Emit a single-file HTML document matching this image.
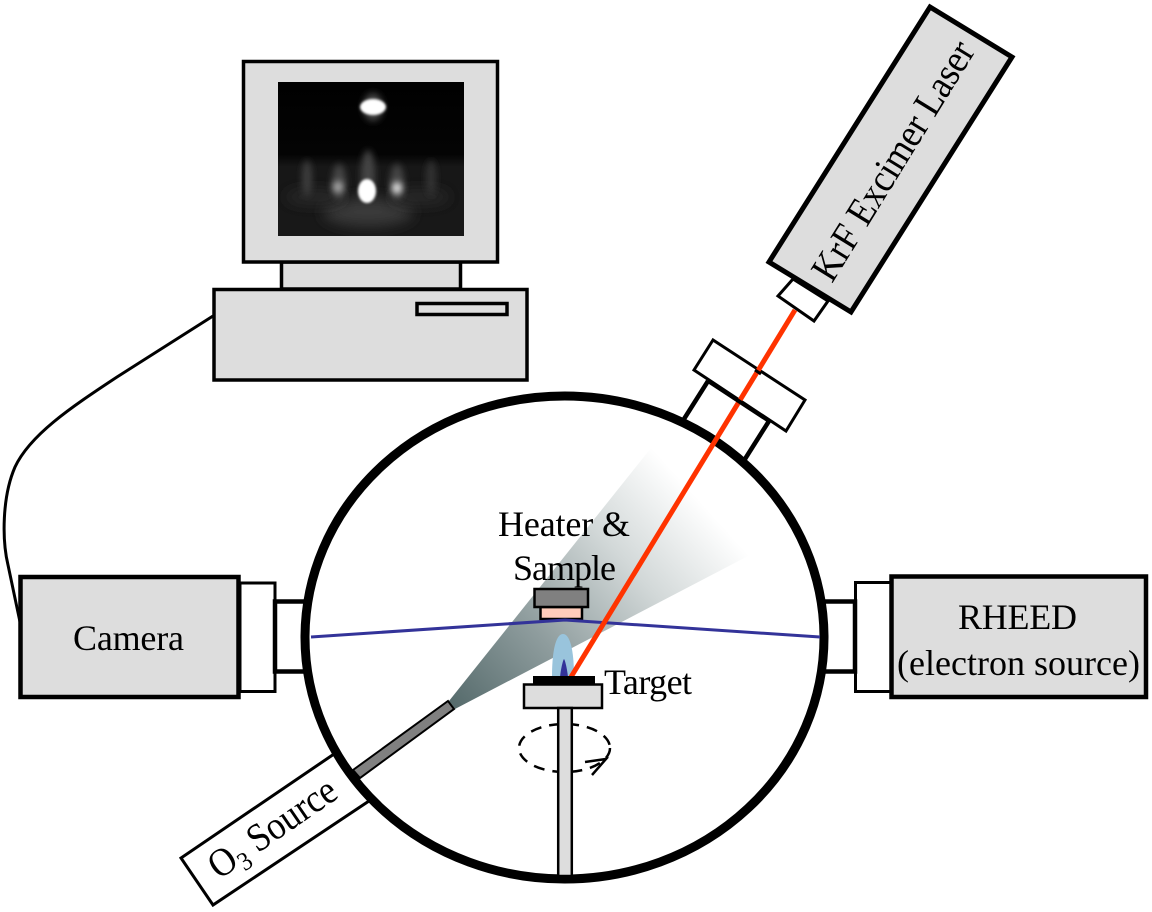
<!DOCTYPE html>
<html><head><meta charset="utf-8"><style>
html,body{margin:0;padding:0;background:#fff}
svg{display:block}
text{font-family:"Liberation Serif",serif;fill:#000;font-size:36px}
</style></head><body>
<svg width="1152" height="912" viewBox="0 0 1152 912" xmlns="http://www.w3.org/2000/svg">
<defs>
<linearGradient id="gas" gradientUnits="userSpaceOnUse" x1="452" y1="705" x2="690" y2="490">
<stop offset="0" stop-color="#566b6c"/><stop offset="0.35" stop-color="#8f9d9e"/><stop offset="0.7" stop-color="#d2d8d8"/><stop offset="1" stop-color="#ffffff"/>
</linearGradient>
<linearGradient id="scr" x1="0" y1="0" x2="0" y2="1">
<stop offset="0" stop-color="#000"/><stop offset="0.47" stop-color="#040404"/><stop offset="0.55" stop-color="#171717"/><stop offset="1" stop-color="#181818"/>
</linearGradient>
<filter id="b1" x="-100%" y="-100%" width="300%" height="300%"><feGaussianBlur stdDeviation="1.2"/></filter>
<filter id="b3" x="-100%" y="-100%" width="300%" height="300%"><feGaussianBlur stdDeviation="3.5"/></filter>
<filter id="b6" x="-100%" y="-100%" width="300%" height="300%"><feGaussianBlur stdDeviation="7"/></filter>
<clipPath id="sc"><rect x="278" y="82" width="186" height="154"/></clipPath>
</defs>

<!-- cable -->
<path d="M213,316 L117,377 C70,408 30,435 15,467 C2,497 2,540 8,565 L20,622" fill="none" stroke="#000" stroke-width="3"/>

<!-- monitor -->
<rect x="281.5" y="262" width="179" height="27" fill="#ddd" stroke="#000" stroke-width="3.5"/>
<rect x="243.5" y="61.5" width="254" height="200.5" fill="#ddd" stroke="#000" stroke-width="3.5"/>
<rect x="214" y="289.5" width="313" height="90.5" fill="#ddd" stroke="#000" stroke-width="3.5"/>
<rect x="417" y="303.5" width="90" height="11" fill="#ddd" stroke="#000" stroke-width="3.5"/>
<!-- RHEED screen -->
<rect x="278" y="82" width="186" height="154" fill="url(#scr)"/>
<g clip-path="url(#sc)">
<ellipse cx="368" cy="212" rx="45" ry="14" fill="#3a3a3a" filter="url(#b6)"/>
<ellipse cx="315" cy="197" rx="30" ry="7" fill="#2c2c2c" filter="url(#b6)"/>
<ellipse cx="420" cy="197" rx="30" ry="7" fill="#2c2c2c" filter="url(#b6)"/>
<ellipse cx="307" cy="178" rx="5" ry="18" fill="#3c3c3c" filter="url(#b3)"/>
<ellipse cx="431" cy="178" rx="5" ry="18" fill="#333" filter="url(#b3)"/>
<ellipse cx="339" cy="182" rx="7" ry="18" fill="#444" filter="url(#b3)"/>
<ellipse cx="397" cy="182" rx="7" ry="18" fill="#444" filter="url(#b3)"/>
<ellipse cx="368" cy="175" rx="7" ry="25" fill="#444" filter="url(#b3)"/>
<ellipse cx="338" cy="187" rx="5" ry="6" fill="#aaa" filter="url(#b3)"/>
<ellipse cx="397" cy="188" rx="5" ry="6" fill="#e8e8e8" filter="url(#b3)"/>
<ellipse cx="367" cy="191" rx="9" ry="12" fill="#fff" filter="url(#b1)"/>
<ellipse cx="373" cy="107" rx="10" ry="14" fill="#444" filter="url(#b3)"/>
<ellipse cx="373" cy="107" rx="13" ry="8" fill="#fff" filter="url(#b1)"/>
</g>

<!-- laser -->
<polygon points="793,279 778,296 814,321 828,301" fill="#fff" stroke="#000" stroke-width="3"/>
<polygon points="930,7 1012,57 851,312 769,262" fill="#ddd" stroke="#000" stroke-width="5"/>
<text transform="translate(832,284) rotate(-58.3) scale(1,1.1)" textLength="274">KrF Excimer Laser</text>

<!-- port on chamber -->
<line x1="708" y1="381" x2="684" y2="419" stroke="#000" stroke-width="4.5"/>
<line x1="769" y1="421" x2="745" y2="459" stroke="#000" stroke-width="4.5"/>
<polygon points="713,340 694,370 786,431 805,400" fill="#fff" stroke="#000" stroke-width="3"/>

<!-- left & right ports -->
<rect x="240" y="583" width="35" height="108.5" fill="#fff" stroke="#000" stroke-width="3"/>
<rect x="20.5" y="577" width="218" height="120" fill="#ddd" stroke="#000" stroke-width="4.5"/>
<path d="M310,601.5 H275 V671.5 H310" fill="none" stroke="#000" stroke-width="4.5"/>
<rect x="855.5" y="582.5" width="36" height="109" fill="#fff" stroke="#000" stroke-width="3"/>
<rect x="891.5" y="576.5" width="254.5" height="120.5" fill="#ddd" stroke="#000" stroke-width="4.5"/>
<path d="M820,601.5 H855 V671.5 H820" fill="none" stroke="#000" stroke-width="4.5"/>

<!-- O3 source box -->
<polyline points="337,752 181,858 213,905 372,799" fill="#fff" stroke="#000" stroke-width="3"/>

<!-- gas cone -->
<polygon points="449,701 655,443 750,555 455,709" fill="url(#gas)"/>
<polygon points="353,770 360,778 454,709 448,701" fill="#808080" stroke="#000" stroke-width="2"/>

<!-- chamber -->
<ellipse cx="564.5" cy="637.5" rx="259.5" ry="241.5" fill="none" stroke="#000" stroke-width="9"/>

<!-- heater -->
<rect x="540.5" y="607" width="41.5" height="12" fill="#ffccbb" stroke="#000" stroke-width="2.5"/>
<rect x="534.5" y="589" width="53.5" height="18" fill="#808080" stroke="#000" stroke-width="2.5"/>

<!-- RHEED beam -->
<polyline points="311,637 565,620 820,637" fill="none" stroke="#333399" stroke-width="3"/>

<!-- plume -->
<path d="M552,677 C552,650 556,634 563,634 C570,634 574,650 574,677 Z" fill="#99c4dc"/>
<path d="M560,677 C561,668 563,660 564,659 C565,660 567,668 568,677 Z" fill="#333399"/>

<!-- laser beam -->
<line x1="795" y1="310" x2="571" y2="677" stroke="#ff3300" stroke-width="5"/>
<line x1="708" y1="381" x2="769" y2="421" stroke="#000" stroke-width="4"/>
<line x1="755" y1="370" x2="761" y2="374" stroke="#000" stroke-width="3"/>

<!-- target -->
<rect x="533" y="676" width="62" height="8" fill="#000"/>
<rect x="524" y="684.5" width="78" height="23.5" fill="#ddd" stroke="#000" stroke-width="2.5"/>

<!-- rotation -->
<ellipse cx="564.5" cy="748" rx="45.5" ry="24" fill="none" stroke="#000" stroke-width="2.5" stroke-dasharray="11 8"/>
<path d="M585,762 L606,759 L592,775" fill="none" stroke="#000" stroke-width="2.5"/>
<rect x="558.2" y="708" width="13.6" height="168" fill="#ddd" stroke="#000" stroke-width="2.5"/>

<!-- labels -->
<text x="73" y="650" textLength="111">Camera</text>
<text x="958" y="629" textLength="119">RHEED</text>
<text x="897" y="675" textLength="243">(electron source)</text>
<text x="498" y="536" textLength="132">Heater &amp;</text>
<text x="513" y="580" textLength="103">Sample</text>
<text x="604" y="694" textLength="88">Target</text>
<text transform="translate(219,880) rotate(-34.5) scale(1,1.1)">O<tspan dy="7" style="font-size:24px">3</tspan><tspan dy="-7"> Source</tspan></text>
</svg>
</body></html>
